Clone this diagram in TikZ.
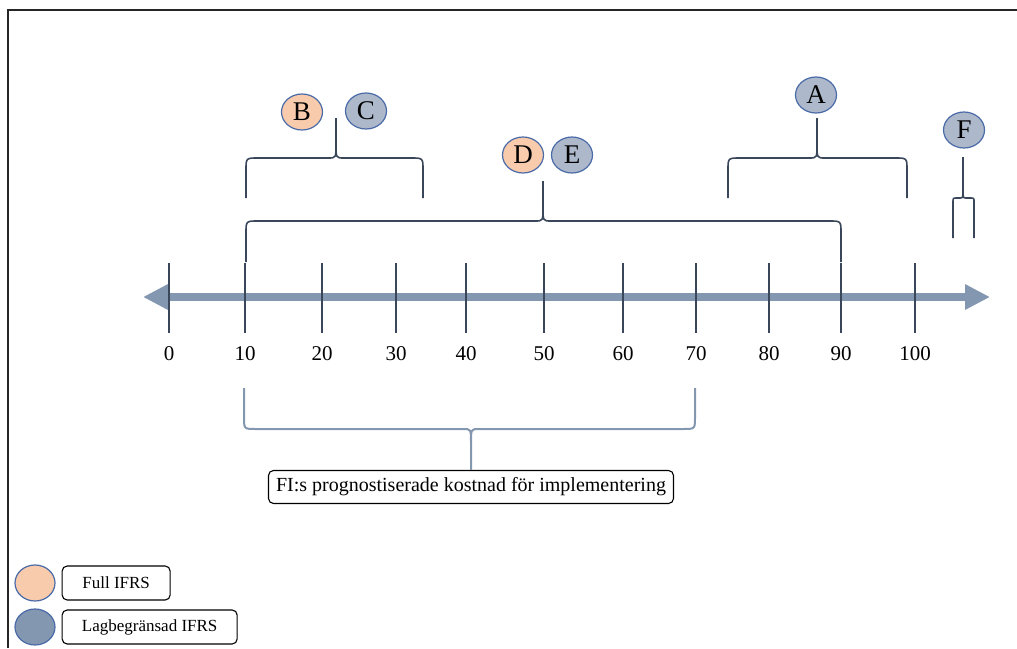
\documentclass[tikz,border=0pt]{standalone}
\usepackage{fontspec}
\setmainfont{Liberation Serif}
\usetikzlibrary{
  arrows.meta,
  shapes.geometric,
  positioning
}
\definecolor{peach}{HTML}{F8CBAD}
\definecolor{bluegrey}{HTML}{ADB9CA}
\definecolor{slate}{HTML}{8497B0}
\definecolor{rim}{HTML}{4A6AA8}
\definecolor{inkline}{HTML}{3A475A}

\begin{document}
\begin{tikzpicture}[
      x=1pt,y=-1pt,
      full/.style={
         ellipse,
         minimum width=41pt,
         minimum height=36pt,
         inner sep=0pt,
         draw=rim,
         line width=1.2pt,
         fill=peach,
         font=\fontsize{27}{27}\selectfont
      },
      limited/.style={
         full,
         fill=bluegrey
      },
      legbox/.style={
         rectangle,
         rounded corners=5pt,
         draw=black,
         line width=1.1pt,
         minimum height=34pt,
         font=\fontsize{17}{19}\selectfont
      },
      axis/.style={line width=8pt,draw=slate,
         {Triangle[length=25pt,width=24pt]}-{Triangle[length=25pt,width=24pt]}},
      tick/.style={line width=1.5pt,draw=inkline},
      brace/.style={line width=1.6pt,draw=inkline},
      costbrace/.style={line width=2pt,draw=slate}
    ]
    \useasboundingbox (0,0) rectangle (1017,648);
    % frame
    \draw[line width=2pt,black!85] (8,648) -- (8,10) -- (1017,10);

    % axis
    \coordinate (lend) at (143,297);
    \coordinate (rend) at (990,297);
    \draw[axis] (lend) -- (rend);
    \foreach \v/\x in {0/169,10/245,20/322,30/396,40/466,50/544,60/623,70/696,80/769,90/841,100/915} {
       \draw[tick] (\x,263) -- (\x,333);
       \node (t\v) at (\x,354) {\fontsize{21}{23}\selectfont\v};
    }

    % groups
    \node (b) [full]    at (302,112) {B};
    \node (c) [limited] at (366,111) {C};
    \node (d) [full]    at (523,155) {D};
    \node (e) [limited] at (572,155) {E};
    \node (a) [limited] at (816,95)  {A};
    \node (f) [limited] at (964,130) {F};

    \draw[brace] (246,198) -- (246,170) .. controls (246,158) .. (258,158) -- (328,158)
       .. controls (336,158) .. (336,144) -- (336,118)
       (336,144) .. controls (336,158) .. (344,158) -- (411,158)
       .. controls (423,158) .. (423,170) -- (423,198);
    \draw[brace] (246,262) -- (246,233) .. controls (246,221) .. (258,221) -- (535,221)
       .. controls (543,221) .. (543,207) -- (543,181)
       (543,207) .. controls (543,221) .. (551,221) -- (829,221)
       .. controls (841,221) .. (841,233) -- (841,262);
    \draw[brace] (728,198) -- (728,170) .. controls (728,158) .. (740,158) -- (809,158)
       .. controls (817,158) .. (817,144) -- (817,118)
       (817,144) .. controls (817,158) .. (825,158) -- (895,158)
       .. controls (907,158) .. (907,170) -- (907,198);
    \draw[brace] (953,238) -- (953,202) .. controls (953,198) .. (957,198) -- (960,198)
       .. controls (963,198) .. (963,188) -- (963,157)
       (963,188) .. controls (963,198) .. (966,198) -- (970,198)
       .. controls (974,198) .. (974,202) -- (974,238);

    % implementation cost
    \node (cost) [legbox, minimum width=405pt, minimum height=33pt,
       font=\fontsize{20}{22}\selectfont] at (471,487)
       {FI:s prognostiserade kostnad för implementering};
    \draw[costbrace] (244,388) -- (244,417) .. controls (244,429) .. (256,429) -- (463,429)
       .. controls (471,429) .. (471,443) -- (cost.north)
       (471,443) .. controls (471,429) .. (479,429) -- (683,429)
       .. controls (695,429) .. (695,417) -- (695,388);

    % legend
    \node (lfull) [full, minimum width=40pt] at (35,583) {};
    \node (llag) [full, minimum width=40pt, fill=slate] at (35,627) {};
    \node (tfull) [legbox, minimum width=108pt, right=6pt of lfull] {Full IFRS};
    \node (tlag) [legbox, minimum width=175pt, right=6pt of llag] {Lagbegränsad IFRS};
\end{tikzpicture}
\end{document}
